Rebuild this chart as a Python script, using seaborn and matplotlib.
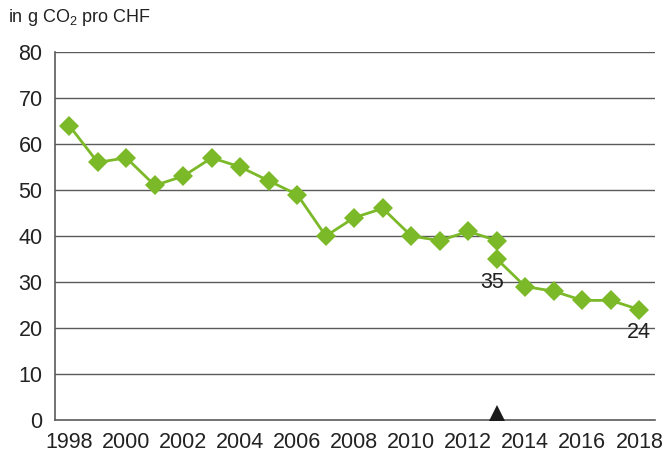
import numpy as np
import pandas as pd
import matplotlib
matplotlib.use("Agg")
import matplotlib.pyplot as plt
import seaborn as sns

# CO2 intensity, in g CO2 per CHF
years_old = [1998, 1999, 2000, 2001, 2002, 2003, 2004, 2005, 2006, 2007,
             2008, 2009, 2010, 2011, 2012, 2013]
values_old = [64, 56, 57, 51, 53, 57, 55, 52, 49, 40,
              44, 46, 40, 39, 41, 39]
years_new = [2013, 2014, 2015, 2016, 2017, 2018]
values_new = [35, 29, 28, 26, 26, 24]
break_year = 2013
tick_years = list(range(1998, 2019))
y_ticks = [0, 10, 20, 30, 40, 50, 60, 70, 80]

GREEN = "#7bb928"
GRID = "#5a5a5a"
TEXT = "#222222"

sns.set_theme(style="white")
plt.rcParams["font.family"] = ["Liberation Sans", "DejaVu Sans"]
plt.rcParams["mathtext.default"] = "regular"

df = pd.concat([
    pd.DataFrame({"Jahr": years_old, "Wert": values_old, "Reihe": "alt"}),
    pd.DataFrame({"Jahr": years_new, "Wert": values_new, "Reihe": "neu"}),
])

fig = plt.figure(figsize=(6.66, 4.53), dpi=100)
ax = fig.add_axes([55 / 666, 1 - 420 / 453, 600 / 666, (420 - 52) / 453])

sns.lineplot(data=df, x="Jahr", y="Wert", hue="Reihe",
             palette={"alt": GREEN, "neu": GREEN}, marker="D",
             markersize=10, markeredgewidth=0, linewidth=2,
             legend=False, ax=ax)

# break in the series, sitting on the x axis
ax.plot([break_year], [1.6], marker="^", color="#1a1a1a", markersize=12,
        clip_on=False, zorder=5, markeredgewidth=0)

# value labels
ax.text(break_year - 0.15, 29.8, str(values_new[0]), ha="center",
        va="center", fontsize=15.5, color=TEXT)
ax.text(years_new[-1], 19.1, str(values_new[-1]), ha="center",
        va="center", fontsize=15.5, color=TEXT)

ax.set_xlim(1997.5, 2018.55)
ax.set_ylim(0, 80)
ax.set_yticks(y_ticks)
ax.set_yticklabels([str(v) for v in y_ticks], fontsize=15.5, color=TEXT)
ax.set_xticks(tick_years)
ax.set_xticklabels([str(y) if y % 2 == 0 else "" for y in tick_years],
                   fontsize=15.5, color=TEXT)
ax.tick_params(axis="x", direction="in", length=7, width=1, color=GRID, pad=9)
ax.tick_params(axis="y", length=0, pad=9)

for v in y_ticks[1:]:
    ax.axhline(v, color=GRID, linewidth=1, zorder=0)

for s in ["top", "right"]:
    ax.spines[s].set_visible(False)
for s in ["left", "bottom"]:
    ax.spines[s].set_color(GRID)
    ax.spines[s].set_linewidth(1.2)

ax.set_xlabel("")
ax.set_ylabel("")
fig.text(8 / 666, 1 - 18 / 453, "in g CO$_2$ pro CHF", fontsize=13,
         va="center", ha="left", color=TEXT)

fig.savefig("out.png", dpi=100)
